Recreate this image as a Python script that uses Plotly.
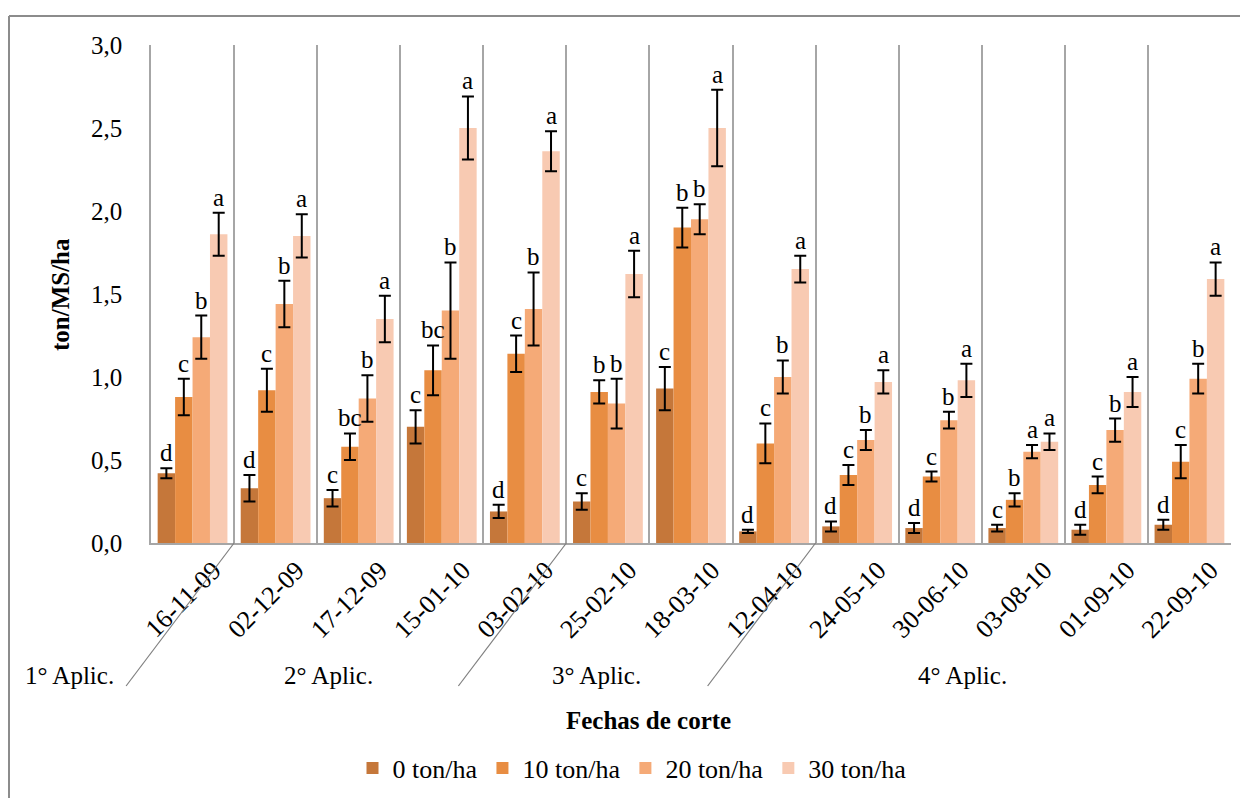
import plotly.graph_objects as go

categories = ["16-11-09", "02-12-09", "17-12-09", "15-01-10", "03-02-10", "25-02-10", "18-03-10",
              "12-04-10", "24-05-10", "30-06-10", "03-08-10", "01-09-10", "22-09-10"]
series_names = ["0 ton/ha", "10 ton/ha", "20 ton/ha", "30 ton/ha"]

v0 = [0.42, 0.33, 0.27, 0.70, 0.19, 0.25, 0.93, 0.07, 0.10, 0.09, 0.09, 0.08, 0.11]
v10 = [0.88, 0.92, 0.58, 1.04, 1.14, 0.91, 1.90, 0.60, 0.41, 0.40, 0.26, 0.35, 0.49]
v20 = [1.24, 1.44, 0.87, 1.40, 1.41, 0.84, 1.95, 1.00, 0.62, 0.74, 0.55, 0.68, 0.99]
v30 = [1.86, 1.85, 1.35, 2.50, 2.36, 1.62, 2.50, 1.65, 0.97, 0.98, 0.61, 0.91, 1.59]

e0 = [0.03, 0.08, 0.05, 0.10, 0.04, 0.05, 0.13, 0.01, 0.03, 0.03, 0.02, 0.03, 0.03]
e10 = [0.11, 0.13, 0.08, 0.15, 0.11, 0.07, 0.12, 0.12, 0.06, 0.03, 0.04, 0.05, 0.10]
e20 = [0.13, 0.14, 0.14, 0.29, 0.22, 0.15, 0.09, 0.10, 0.06, 0.05, 0.04, 0.07, 0.09]
e30 = [0.13, 0.13, 0.14, 0.19, 0.12, 0.14, 0.23, 0.08, 0.07, 0.10, 0.05, 0.09, 0.10]

l0 = ["d", "d", "c", "c", "d", "c", "c", "d", "d", "d", "c", "d", "d"]
l10 = ["c", "c", "bc", "bc", "c", "b", "b", "c", "c", "c", "b", "c", "c"]
l20 = ["b", "b", "b", "b", "b", "b", "b", "b", "b", "b", "a", "b", "b"]
l30 = ["a", "a", "a", "a", "a", "a", "a", "a", "a", "a", "a", "a", "a"]

groups = ["1° Aplic.", "2° Aplic.", "3° Aplic.", "4° Aplic."]
group_starts = [1, 5, 8]
group_label_px = [69, 328, 596, 962]

colors = ["#C5773A", "#E88D42", "#F5AA77", "#F8CAB2"]
FONT = "Liberation Serif, Times New Roman, serif"
FS = 25

values = [v0, v10, v20, v30]
errors = [e0, e10, e20, e30]
letters = [l0, l10, l20, l30]

# page body has an 8px margin; figure is sized to fill the rest of the window
OFF = 8
W, H = 1248 - OFF, 798 - OFF
ML, MT = 151 - OFF, 45 - OFF
PW, PH = 1080, 498
MR = W - ML - PW
MB = H - MT - PH
BARGAP = 0.16


def xp(x):  # reference-screen x pixel -> paper
    return (x - OFF - ML) / PW


def yp(y):  # reference-screen y pixel -> paper
    return (MT + PH - (y - OFF)) / PH


fig = go.Figure()
for name, vals, errs, col in zip(series_names, values, errors, colors):
    fig.add_trace(go.Bar(
        x=categories, y=vals, name=name, marker=dict(color=col, line=dict(width=0)),
        error_y=dict(type="data", array=errs, visible=True, color="black", thickness=2, width=6),
    ))

cat_px = PW / len(categories)
bar_px = cat_px * (1 - BARGAP) / 4
annotations = []
for j, (vals, errs, lets) in enumerate(zip(values, errors, letters)):
    for i, c in enumerate(categories):
        annotations.append(dict(
            x=c, y=vals[i] + errs[i], text=lets[i], showarrow=False,
            xshift=(j - 1.5) * bar_px, yshift=0, yanchor="bottom",
            font=dict(family=FONT, size=FS, color="black"),
        ))

for g, gx in zip(groups, group_label_px):
    annotations.append(dict(
        x=xp(gx), xref="paper", y=yp(675), yref="paper",
        text=g, showarrow=False, xanchor="center", yanchor="middle",
        font=dict(family=FONT, size=FS, color="black"),
    ))

annotations.append(dict(
    x=xp(648), xref="paper", y=yp(720), yref="paper",
    text="<b>Fechas de corte</b>", showarrow=False, xanchor="center", yanchor="middle",
    font=dict(family=FONT, size=FS, color="black"),
))
annotations.append(dict(
    x=xp(60), xref="paper", y=yp(295), yref="paper",
    text="<b>ton/MS/ha</b>", showarrow=False, textangle=-90, xanchor="center", yanchor="middle",
    font=dict(family=FONT, size=FS, color="black"),
))

shapes = []
for b in group_starts:
    x0 = b / len(categories)
    shapes.append(dict(type="line", xref="paper", yref="paper",
                       x0=x0, y0=0, x1=x0 - 108 / PW, y1=-143 / PH,
                       line=dict(color="#7f7f7f", width=1.2)))

# outer chart border (top and left)
bx, by = xp(9), yp(16)
shapes.append(dict(type="line", xref="paper", yref="paper", x0=bx, y0=by, x1=xp(1260), y1=by,
                   line=dict(color="#8c8c8c", width=2)))
shapes.append(dict(type="line", xref="paper", yref="paper", x0=bx, y0=by, x1=bx, y1=yp(810),
                   line=dict(color="#8c8c8c", width=2)))

fig.update_layout(
    width=W, height=H,
    margin=dict(l=ML, r=MR, t=MT, b=MB, autoexpand=False),
    paper_bgcolor="white", plot_bgcolor="white",
    barmode="group", bargap=BARGAP, bargroupgap=0,
    separators=", ",
    font=dict(family=FONT, size=FS, color="black"),
    showlegend=True,
    legend=dict(orientation="h", x=xp(632), xanchor="center", y=yp(768),
                yanchor="middle", font=dict(family=FONT, size=FS + 1), itemwidth=30,
                traceorder="normal", tracegroupgap=0),
    annotations=annotations,
    shapes=shapes,
)
fig.update_xaxes(
    type="category", tickangle=-45, tickson="boundaries", ticks="", showgrid=True,
    gridcolor="#a6a6a6", gridwidth=1.5, showline=True, linecolor="#a6a6a6", linewidth=1.5,
    tickfont=dict(family=FONT, size=FS + 1), ticklabelshift=21,
    range=[-0.5, len(categories) - 0.5],
)
fig.update_yaxes(
    range=[0, 3.0], dtick=0.5, tickformat=".1f", showgrid=False, zeroline=False,
    showline=True, linecolor="#a6a6a6", linewidth=1.5, ticks="", ticklabelstandoff=22,
    tickfont=dict(family=FONT, size=FS),
)

fig.write_html("out.html")
